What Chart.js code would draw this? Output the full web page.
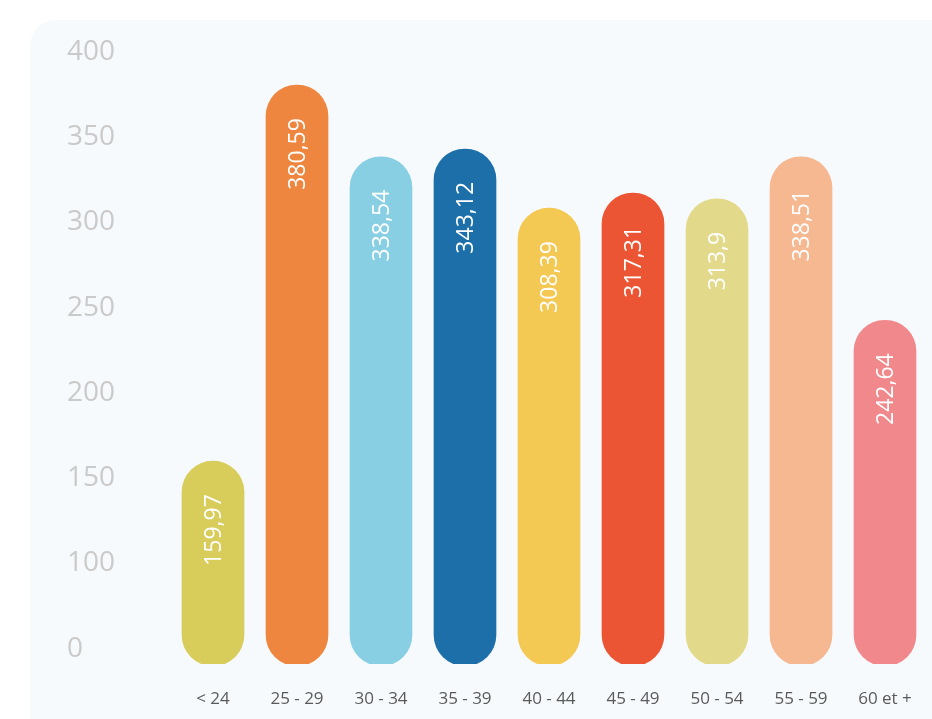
<!DOCTYPE html>
<html>
<head>
<meta charset="utf-8">
<script src="https://cdn.jsdelivr.net/npm/chart.js@4"></script>
<style>
  html, body { margin: 0; padding: 0; background: #ffffff; overflow: hidden; }
  #wrap { position: relative; width: 932px; height: 719px; }
  .card {
    position: absolute; left: 30px; top: 20px; width: 940px; height: 740px;
    background: #f7fafd; border-radius: 26px;
  }
  #chart { position: absolute; left: 0; top: 0; }
</style>
</head>
<body>
<div id="wrap">
  <div class="card"></div>
  <canvas id="chart" width="932" height="719"></canvas>
</div>
<script>
// Age groups and values (labels printed inside the bars)
const ageGroups = ['< 24', '25 - 29', '30 - 34', '35 - 39', '40 - 44', '45 - 49', '50 - 54', '55 - 59', '60 et +'];
const values = [159.97, 380.59, 338.54, 343.12, 308.39, 317.31, 313.9, 338.51, 242.64];
const barColors = ['#d8cc5a', '#ef863f', '#88cfe3', '#1c6fa9', '#f3c853', '#ec5533', '#e2da8a', '#f5b891', '#f1888b'];
// y ticks as they appear (lowest tick is labelled "0")
const yTicks = [50, 100, 150, 200, 250, 300, 350, 400];

// white rotated value labels near the top of each bar
const valueLabels = {
  id: 'valueLabels',
  afterDatasetsDraw(chart) {
    const ctx = chart.ctx;
    const meta = chart.getDatasetMeta(0);
    ctx.save();
    ctx.fillStyle = '#ffffff';
    ctx.font = '23px "Open Sans"';
    ctx.textAlign = 'right';
    ctx.textBaseline = 'middle';
    meta.data.forEach((bar, i) => {
      ctx.save();
      ctx.translate(bar.x, bar.y + 33);
      ctx.rotate(-Math.PI / 2);
      ctx.fillText(String(values[i]).replace('.', ','), 0, 1);
      ctx.restore();
    });
    ctx.restore();
  }
};

new Chart(document.getElementById('chart'), {
  type: 'bar',
  data: {
    labels: ageGroups,
    datasets: [{
      data: values,
      base: 40,
      backgroundColor: barColors,
      borderRadius: 31,
      borderSkipped: false,
      barThickness: 62
    }]
  },
  options: {
    responsive: false,
    animation: false,
    layout: { padding: { left: 67, right: 5, top: 52, bottom: 0 } },
    plugins: {
      legend: { display: false },
      tooltip: { enabled: false }
    },
    scales: {
      x: {
        grid: { display: false, drawTicks: false },
        border: { display: false },
        ticks: {
          padding: 25,
          color: '#5a5a5a',
          font: { family: 'Open Sans', size: 17 }
        },
        afterFit(scale) {
          scale.height = 55;
          scale.paddingLeft = 0;
          scale.paddingRight = 0;
        }
      },
      y: {
        min: 41,
        max: 400,
        grid: { display: false, drawTicks: false },
        border: { display: false },
        afterBuildTicks(scale) { scale.ticks = yTicks.map(v => ({ value: v })); },
        afterFit(scale) { scale.width = 104; },
        ticks: {
          crossAlign: 'far',
          color: '#cacaca',
          font: { family: 'Open Sans', size: 28 },
          callback: v => (v === 50 ? '0' : String(v))
        }
      }
    }
  },
  plugins: [valueLabels]
});
</script>
</body>
</html>
